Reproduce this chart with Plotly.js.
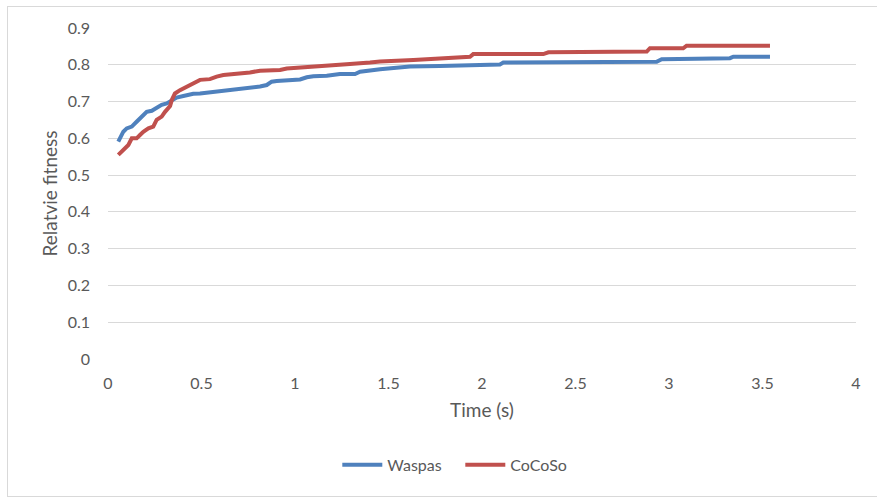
<!DOCTYPE html>
<html>
<head>
<meta charset="utf-8">
<script src="https://cdn.plot.ly/plotly-3.0.1.min.js"></script>
<style>
html,body{margin:0;padding:0;background:#fff;}
#chart{position:absolute;left:0;top:0;width:877px;height:497px;}
#frame{position:absolute;left:7px;top:6px;width:880px;height:489px;border:1px solid #d9d9d9;pointer-events:none;}
</style>
</head>
<body>
<div id="chart"></div>
<div id="frame"></div>
<script>
// Waspas series
const waspasTime = [0.055,0.082,0.100,0.127,0.153,0.180,0.207,0.234,0.260,0.287,0.314,0.341,0.367,0.403,0.456,0.492,0.545,0.581,0.635,0.706,0.759,0.813,0.849,0.875,0.902,0.956,1.027,1.063,1.098,1.17,1.24,1.321,1.348,1.455,1.615,1.775,1.9,2.096,2.114,2.524,2.64,2.684,2.934,2.961,3.094,3.326,3.344,3.54];
const waspasFit  = [0.591,0.618,0.627,0.632,0.645,0.659,0.672,0.675,0.684,0.691,0.695,0.704,0.711,0.715,0.721,0.722,0.725,0.729,0.731,0.734,0.738,0.741,0.745,0.754,0.756,0.757,0.760,0.766,0.769,0.770,0.775,0.775,0.781,0.788,0.795,0.797,0.799,0.801,0.806,0.806,0.806,0.808,0.808,0.815,0.816,0.818,0.822,0.822];
// CoCoSo series
const cocosoTime = [0.055,0.082,0.109,0.127,0.153,0.171,0.189,0.216,0.242,0.260,0.287,0.305,0.332,0.341,0.358,0.385,0.421,0.456,0.492,0.545,0.581,0.617,0.670,0.706,0.759,0.813,0.92,0.956,1.027,1.098,1.17,1.294,1.401,1.455,1.633,1.775,1.802,1.936,1.953,2.328,2.355,2.613,2.631,2.881,2.898,3.076,3.094,3.54];
const cocosoFit  = [0.555,0.568,0.582,0.600,0.600,0.609,0.618,0.627,0.632,0.650,0.659,0.672,0.688,0.704,0.722,0.731,0.741,0.748,0.759,0.761,0.768,0.772,0.774,0.777,0.779,0.784,0.786,0.790,0.793,0.795,0.799,0.802,0.806,0.809,0.813,0.816,0.819,0.822,0.829,0.829,0.834,0.834,0.836,0.836,0.845,0.845,0.852,0.852];
const xTicks = [0,0.5,1,1.5,2,2.5,3,3.5,4];
const yTicks = [0,0.1,0.2,0.3,0.4,0.5,0.6,0.7,0.8,0.9];

const FONT = 'Lato, "Open Sans", sans-serif';
const traces = [
  {x: waspasTime, y: waspasFit, name: 'Waspas', type: 'scatter', mode: 'lines',
   line: {color: '#4F81BD', width: 4}},
  {x: cocosoTime, y: cocosoFit, name: 'CoCoSo', type: 'scatter', mode: 'lines',
   line: {color: '#C0504D', width: 4}}
];
const layout = {
  width: 877, height: 497,
  margin: {l: 108, r: 21, t: 28, b: 138},
  paper_bgcolor: '#fff', plot_bgcolor: '#fff',
  font: {family: FONT, color: '#595959', size: 16},
  xaxis: {range: [0, 4], tickvals: xTicks, ticktext: xTicks.map(String),
    showgrid: false, zeroline: false, showline: false, ticks: '',
    ticklabelstandoff: 13, tickfont: {size: 16},
    title: {text: 'Time (s)', font: {size: 19, color: '#595959'}, standoff: 12}},
  yaxis: {range: [0, 0.9], tickvals: yTicks, ticktext: yTicks.map(String),
    showgrid: true, gridcolor: '#d9d9d9', gridwidth: 1, zeroline: false, showline: false, ticks: '',
    ticklabelstandoff: 17, tickfont: {size: 16},
    title: {text: 'Relatvie fitness', font: {size: 19, color: '#595959'}, standoff: 5}},
  legend: {orientation: 'h', x: 0.471, xanchor: 'center', y: -0.32, yanchor: 'middle',
    font: {size: 16, color: '#595959'}, itemwidth: 40, entrywidth: 68, tracegroupgap: 0},
  showlegend: true
};
Plotly.newPlot('chart', traces, layout, {displayModeBar: false, staticPlot: true});
</script>
</body>
</html>
